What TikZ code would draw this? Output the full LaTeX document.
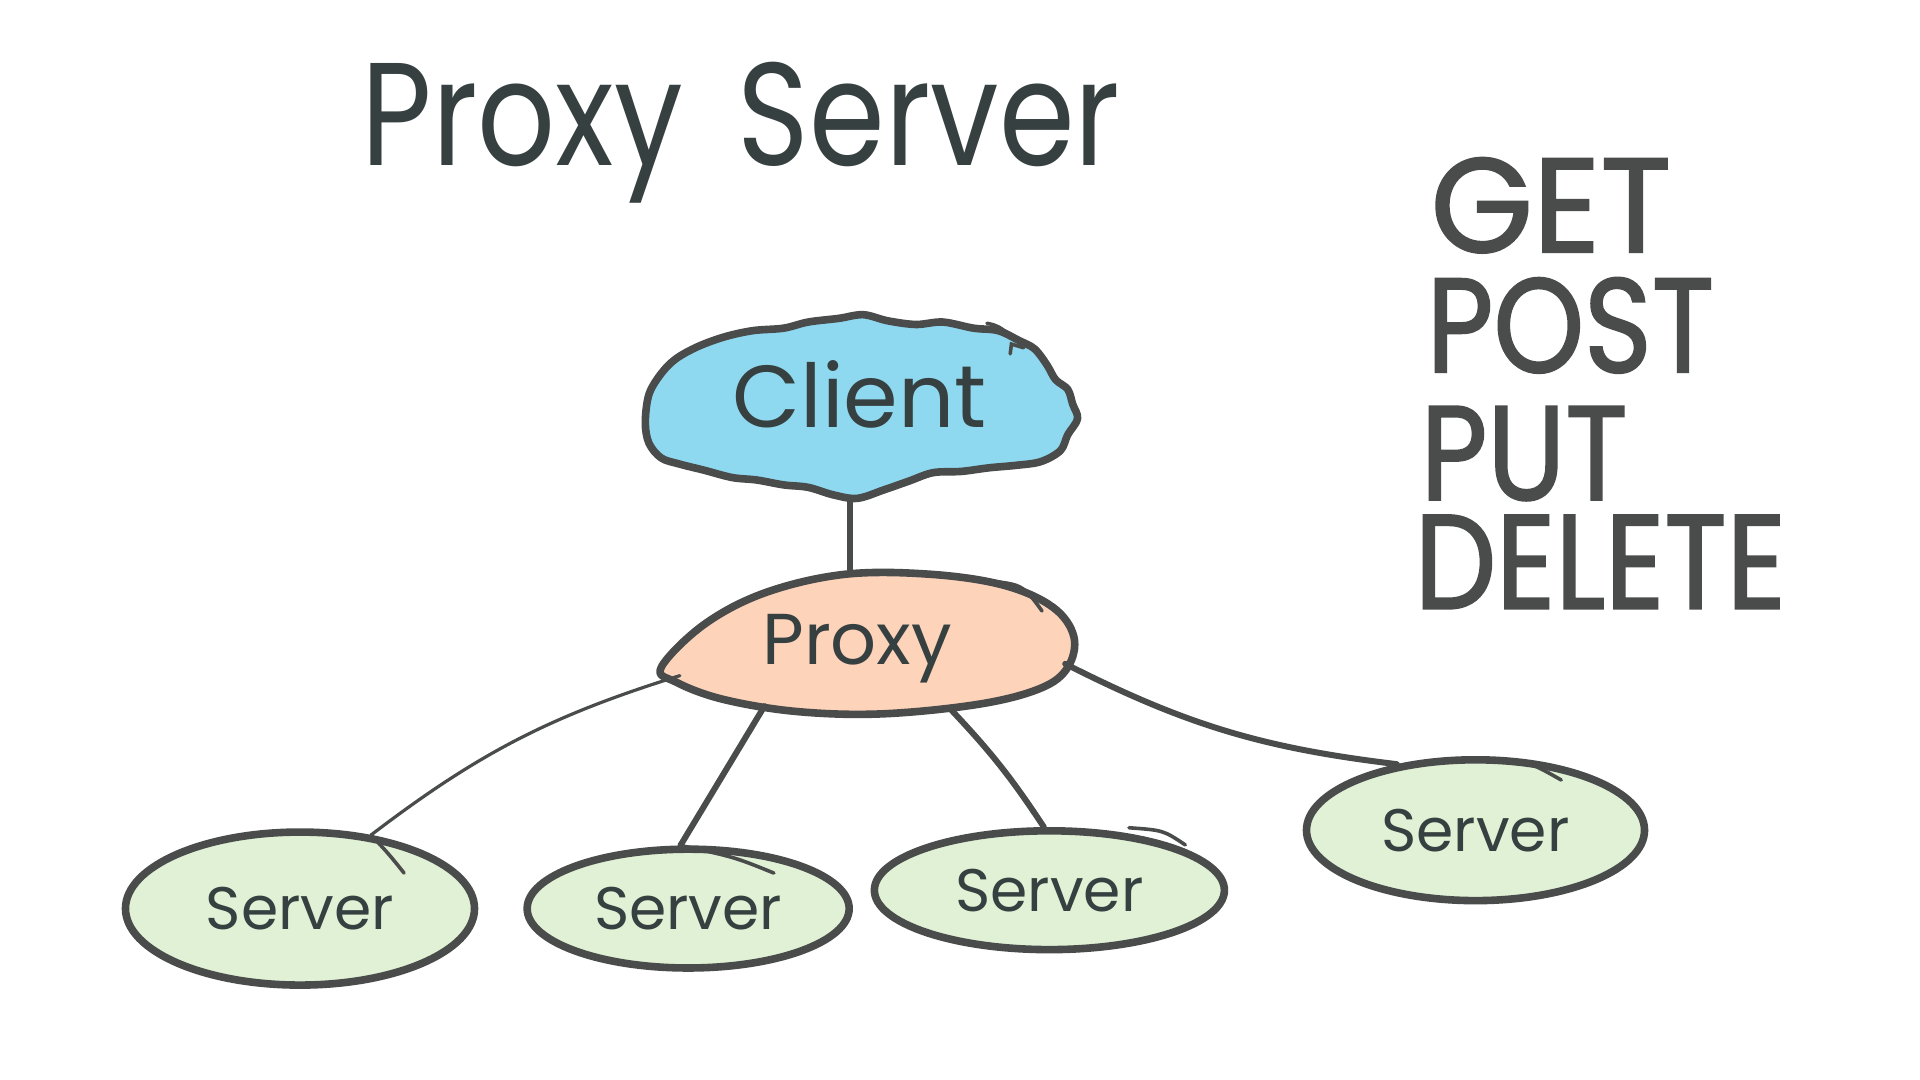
\documentclass[tikz,border=0pt]{standalone}
\usepackage{fontspec}
\setmainfont{Poppins}
\newfontfamily\methfont{Poppins}[FakeBold=1.6]
\usetikzlibrary{shapes.geometric}
\definecolor{ink}{HTML}{4A4C4C}
\definecolor{txt}{HTML}{374040}
\definecolor{cloudblue}{HTML}{8FD9F0}
\definecolor{peach}{HTML}{FDD3BA}
\definecolor{mint}{HTML}{E0F1D6}
\begin{document}
\begin{tikzpicture}[x=0.6122pt,y=-0.6122pt,
  outline/.style={draw=ink,line width=3.8pt,line join=round,line cap=round},
  conn/.style={draw=ink,line width=3pt,line cap=round},
  thinconn/.style={draw=ink,line width=1.6pt,line cap=round},
  extra/.style={draw=ink,line width=1.8pt,line cap=round},
  serverbox/.style={ellipse,draw=ink,line width=3.8pt,fill=mint,text=txt,
    font=\fontsize{30}{36}\selectfont,inner sep=0pt},
  ghost/.style={draw=none,inner sep=0pt},
  lbl/.style={text=txt,inner sep=0pt},
  method/.style={text=ink,anchor=base west,inner sep=0pt,align=left,
    font=\methfont\fontsize{62}{59.4pt}\selectfont}]
\useasboundingbox[fill=white] (0,0) rectangle (1568,882);

% title
\node[lbl,anchor=base west,font=\fontsize{61}{70}\selectfont] (title) at (295,135) {\scalebox{1}[1.2]{Proxy\hspace{0.45em}Server}};

% methods
\node[method] (methods) at (1155,497) {%
  \hspace*{8pt}\scalebox{1.06}[1.08]{GET}\\[0.6pt]
  \hspace*{6pt}\scalebox{0.93}[1.08]{POST}\\[4.4pt]
  \hspace*{3pt}\scalebox{0.93}[1.08]{PUT}\\[-5pt]
  \scalebox{0.93}[1.08]{DELETE}};

% client cloud
\path[outline,fill=cloudblue] plot[smooth cycle,tension=0.55] coordinates {
 (527,345) (530,322) (540,305) (552,293) (570,283) (592,275) (615,270) (640,268)
 (660,263) (685,260) (705,257) (725,262) (748,265) (770,263) (795,268) (815,270)
 (832,278) (845,285) (855,298) (862,310) (872,318) (876,330) (880,342) (872,355)
 (866,368) (850,377) (830,380) (808,382) (785,385) (762,386) (742,393) (722,400)
 (700,407) (680,404) (660,398) (640,396) (618,392) (598,390) (575,384) (555,379)
 (540,374) (530,362)};
\draw[extra] (806,264) .. controls (815,266) .. (828,276);
\draw[extra] (825,289) -- (826,281) -- (836,284);
\node[ghost,minimum width=214pt,minimum height=91pt] (client) at (694,333) {};
\node[lbl,font=\fontsize{44}{52}\selectfont] (clienttext) at (702,322) {Client};

% proxy lens
\path[outline,fill=peach] plot[smooth cycle,tension=0.6] coordinates {
 (540,545) (575,510) (625,484) (690,469) (760,469) (820,478) (860,496) (877,520)
 (872,545) (850,562) (800,575) (720,583) (650,581) (590,571) (552,557)};
\draw[extra] (802,474) .. controls (835,477) .. (851,499);
\node[ghost,ellipse,minimum width=208pt,minimum height=72pt] (proxy) at (707,525) {};
\node[lbl,font=\fontsize{36}{44}\selectfont] (proxytext) at (700,530) {Proxy};

% servers
\node[serverbox,minimum width=174.5pt,minimum height=76.5pt] (s1) at (245,742) {Server};
\node[serverbox,minimum width=161pt,minimum height=59.4pt] (s2) at (562,742) {Server};
\node[serverbox,minimum width=175pt,minimum height=59.4pt] (s3) at (857,727) {Server};
\node[serverbox,minimum width=169pt,minimum height=70.4pt] (s4) at (1205,678) {Server};

% connectors
\draw[conn] (client.south) -- (client.south |- proxy.north);
\draw[thinconn] (proxy.190) to[bend right=10] (s1.46);
\draw[conn] (proxy.212) -- (s2.97);
\draw[conn] (proxy.322) to[bend left=5] (s3.95);
\draw[conn] (proxy.354) to[bend right=10] (s4.140);

% extra sketch strokes
\draw[extra] (s1.46) .. controls (318,698) .. (330,713);
\draw[extra] (s2.97) .. controls (600,700) .. (632,713);
\draw[extra] (922,676) .. controls (950,678) .. (968,690);
\draw[extra] (1203,621) .. controls (1245,620) .. (1275,637);
\end{tikzpicture}
\end{document}
